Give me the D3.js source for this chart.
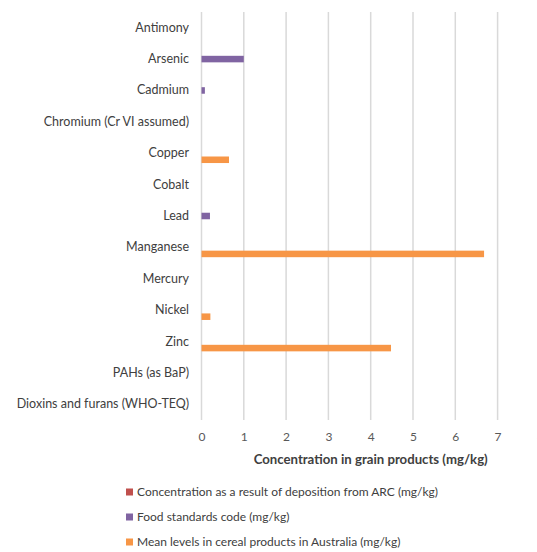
<!DOCTYPE html>
<html><head><meta charset="utf-8">
<script src="https://cdn.jsdelivr.net/npm/d3@7"></script>
<style>
html,body{margin:0;padding:0;background:#fff;}
svg{display:block;font-family:Lato, "Open Sans", sans-serif;}
</style></head>
<body><svg id="c" width="537" height="552"></svg>
<script>
const categories = ["Antimony","Arsenic","Cadmium","Chromium (Cr VI assumed)","Copper","Cobalt","Lead","Manganese","Mercury","Nickel","Zinc","PAHs (as BaP)","Dioxins and furans (WHO-TEQ)"];
const seriesNames = ["Concentration as a result of deposition from ARC (mg/kg)","Food standards code (mg/kg)","Mean levels in cereal products in Australia (mg/kg)"];
const arcDeposition = [0,0,0,0,0,0,0,0,0,0,0,0,0];
const foodStandards = [0,1,0.08,0,0,0,0.2,0,0,0,0,0,0];
const meanCereal = [0,0,0,0,0.65,0,0,6.68,0,0.21,4.48,0,0];
const xTicks = [0,1,2,3,4,5,6,7,8];
const colors = ["#c0504d","#8064a2","#f79646"];
const seriesValues = [arcDeposition, foodStandards, meanCereal];

const svg = d3.select("#c");
const x = d3.scaleLinear().domain([0,8]).range([201.5, 539.9]);
const y = d3.scaleBand().domain(categories).range([12,420]).paddingInner(0.375).paddingOuter(0.1875);
const ys = d3.scaleBand().domain(d3.range(3)).range([0,y.bandwidth()]);

// gridlines
svg.append("g").selectAll("line").data(xTicks).join("line")
  .attr("x1",d=>x(d)).attr("x2",d=>x(d)).attr("y1",12).attr("y2",420)
  .attr("stroke","#d9d9d9").attr("stroke-width",1.5);

// bars
const rows = categories.map((c,i)=>({c, vals: seriesValues.map(s=>s[i])}));
const g = svg.append("g");
rows.forEach(r=>{
  r.vals.forEach((v,si)=>{
    if(v<=0) return;
    g.append("rect").attr("x",x(0)).attr("y",y(r.c)+ys(si))
      .attr("width",x(v)-x(0)).attr("height",ys.bandwidth()).attr("fill",colors[si]);
  });
});

// category labels
const yAxis = d3.axisLeft(y).tickSize(0).tickPadding(0);
const ya = svg.append("g").attr("transform","translate(189,0)").call(yAxis);
ya.select(".domain").remove();
ya.selectAll("text").attr("font-size",12.5).attr("fill","#404040").attr("font-family","Lato, sans-serif");

// x tick labels
const xAxis = d3.axisBottom(x).tickValues(xTicks).tickSize(0).tickPadding(0).tickFormat(d3.format("d"));
const xa = svg.append("g").attr("transform","translate(0,432)").call(xAxis);
xa.select(".domain").remove();
xa.selectAll("text").attr("font-size",12).attr("fill","#595959").attr("font-family","Lato, sans-serif");

// axis title
svg.append("text").attr("x",(x(0)+x(8))/2).attr("y",464).attr("text-anchor","middle")
  .attr("font-size",13.2).attr("font-weight","bold").attr("fill","#404040")
  .text("Concentration in grain products (mg/kg)");

// legend
const lg = svg.append("g");
seriesNames.forEach((n,i)=>{
  const cy = 492 + i*25;
  lg.append("rect").attr("x",126).attr("y",cy-3.5).attr("width",7).attr("height",7).attr("fill",colors[i]);
  lg.append("text").attr("x",137).attr("y",cy).attr("dy","0.35em")
    .attr("font-size",12).attr("fill","#404040").text(n);
});
</script></body></html>
